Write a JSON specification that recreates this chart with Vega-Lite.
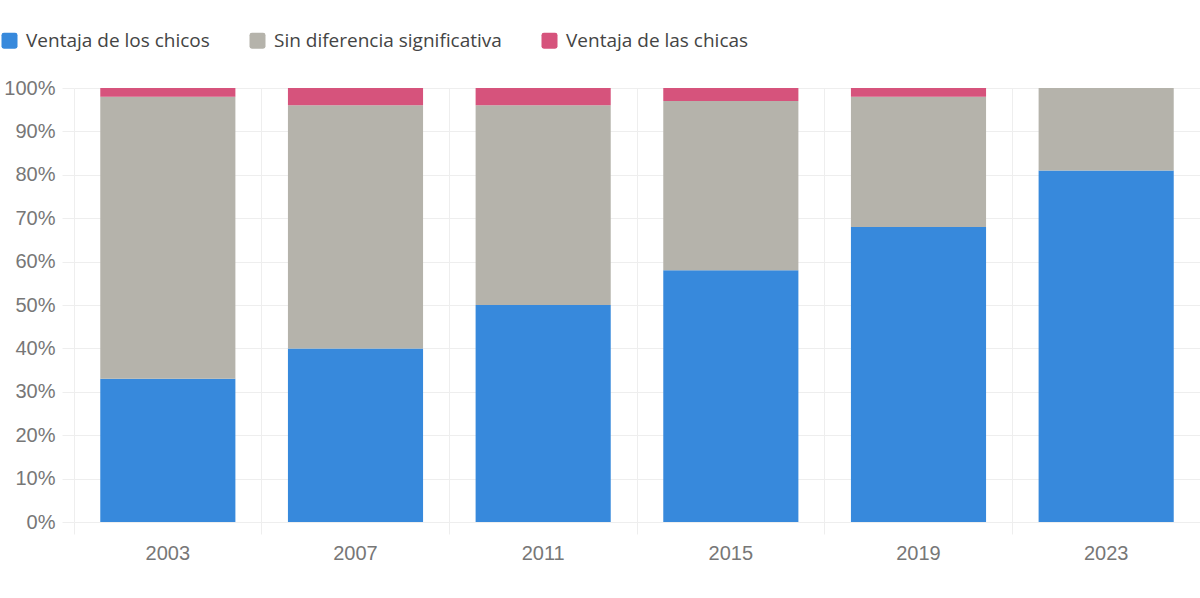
{
  "$schema": "https://vega.github.io/schema/vega-lite/v6.json",
  "width": 1126,
  "height": 434,
  "autosize": "none",
  "padding": {"left": 74, "top": 88, "right": 0, "bottom": 76},
  "background": "white",
  "config": {
    "view": {"stroke": null},
    "font": "Liberation Sans"
  },
  "data": {
    "values": [
      {"año": "2003", "grupo": "Ventaja de los chicos", "pct": 33},
      {"año": "2003", "grupo": "Sin diferencia significativa", "pct": 65},
      {"año": "2003", "grupo": "Ventaja de las chicas", "pct": 2},
      {"año": "2007", "grupo": "Ventaja de los chicos", "pct": 40},
      {"año": "2007", "grupo": "Sin diferencia significativa", "pct": 56},
      {"año": "2007", "grupo": "Ventaja de las chicas", "pct": 4},
      {"año": "2011", "grupo": "Ventaja de los chicos", "pct": 50},
      {"año": "2011", "grupo": "Sin diferencia significativa", "pct": 46},
      {"año": "2011", "grupo": "Ventaja de las chicas", "pct": 4},
      {"año": "2015", "grupo": "Ventaja de los chicos", "pct": 58},
      {"año": "2015", "grupo": "Sin diferencia significativa", "pct": 39},
      {"año": "2015", "grupo": "Ventaja de las chicas", "pct": 3},
      {"año": "2019", "grupo": "Ventaja de los chicos", "pct": 68},
      {"año": "2019", "grupo": "Sin diferencia significativa", "pct": 30},
      {"año": "2019", "grupo": "Ventaja de las chicas", "pct": 2},
      {"año": "2023", "grupo": "Ventaja de los chicos", "pct": 81},
      {"año": "2023", "grupo": "Sin diferencia significativa", "pct": 19},
      {"año": "2023", "grupo": "Ventaja de las chicas", "pct": 0}
    ]
  },
  "transform": [
    {"calculate": "indexof(['Ventaja de los chicos', 'Sin diferencia significativa', 'Ventaja de las chicas'], datum.grupo)", "as": "orden"}
  ],
  "mark": {"type": "bar", "width": {"band": 0.72}},
  "encoding": {
    "x": {
      "field": "año",
      "type": "ordinal",
      "title": null,
      "scale": {"paddingInner": 0, "paddingOuter": 0},
      "axis": {
        "labelAngle": 0,
        "labelFontSize": 20,
        "labelColor": "#777777",
        "labelPadding": 9,
        "grid": true,
        "gridColor": "#eeeeee",
        "bandPosition": 0,
        "ticks": true,
        "tickSize": 12,
        "tickColor": "#eeeeee",
        "domain": false
      }
    },
    "y": {
      "field": "pct",
      "type": "quantitative",
      "stack": "zero",
      "title": null,
      "scale": {"domain": [0, 100], "nice": false},
      "axis": {
        "values": [0, 10, 20, 30, 40, 50, 60, 70, 80, 90, 100],
        "labelExpr": "datum.value + '%'",
        "labelFontSize": 20,
        "labelColor": "#777777",
        "labelPadding": 7,
        "gridColor": "#eeeeee",
        "tickSize": 12,
        "tickColor": "#eeeeee",
        "domain": false
      }
    },
    "order": {"field": "orden", "type": "quantitative", "sort": "ascending"},
    "color": {
      "field": "grupo",
      "type": "nominal",
      "scale": {
        "domain": ["Ventaja de los chicos", "Sin diferencia significativa", "Ventaja de las chicas"],
        "range": ["#3789dc", "#b5b3ab", "#d6537c"]
      },
      "legend": {
        "title": null,
        "orient": "none",
        "direction": "horizontal",
        "legendX": -74,
        "legendY": -57,
        "symbolType": "M-1,-0.7Q-1,-1,-0.7,-1L0.7,-1Q1,-1,1,-0.7L1,0.7Q1,1,0.7,1L-0.7,1Q-1,1,-1,0.7Z",
        "symbolSize": 256,
        "symbolStrokeWidth": 0,
        "labelFont": "Open Sans",
        "labelFontSize": 19,
        "labelColor": "#444444",
        "labelOffset": 7,
        "labelLimit": 0,
        "columnPadding": 38
      }
    }
  }
}
